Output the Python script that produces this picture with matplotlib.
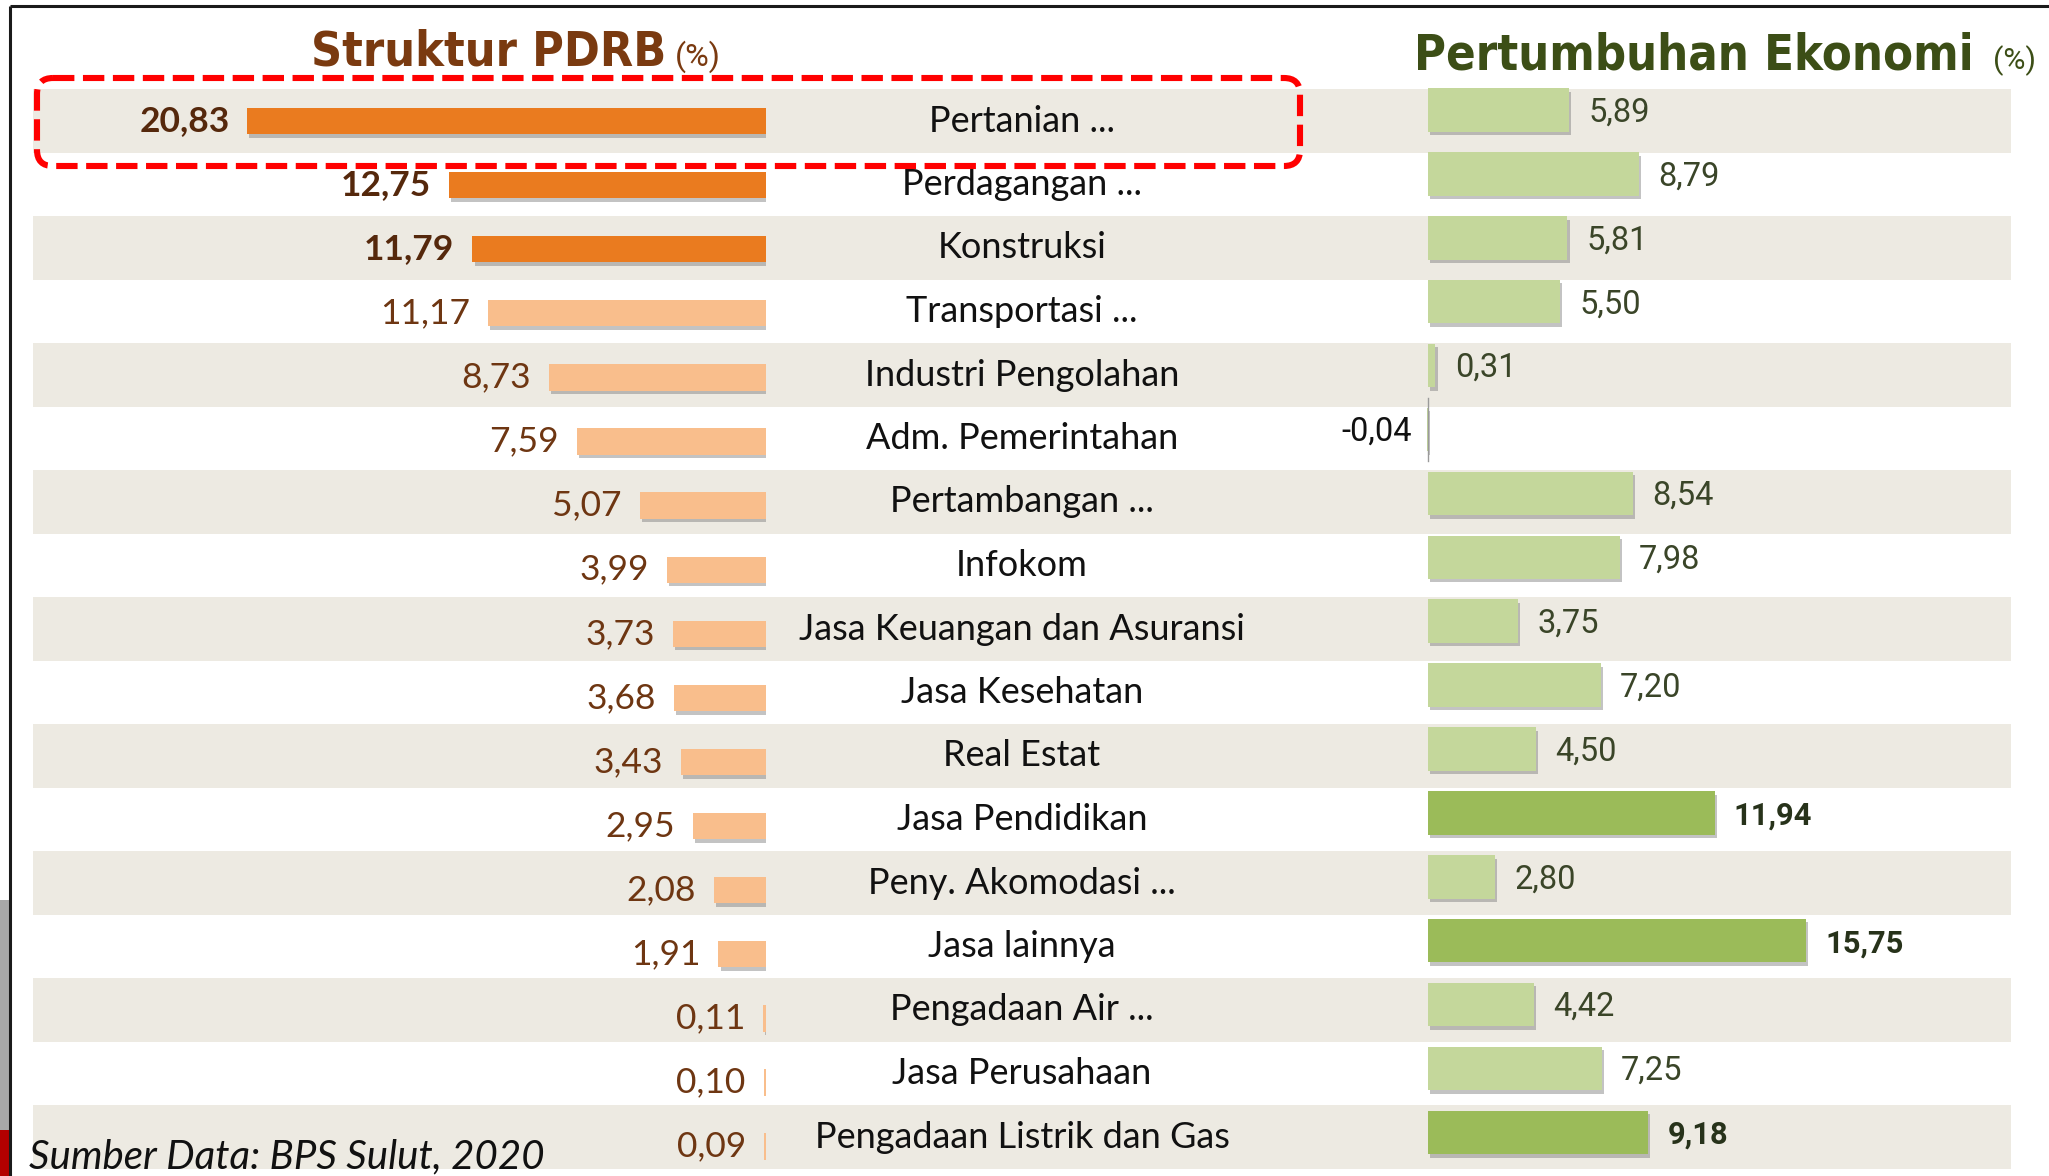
import matplotlib
matplotlib.use("Agg")
import matplotlib.pyplot as plt
from matplotlib import font_manager
from matplotlib.font_manager import FontProperties
from matplotlib.patches import FancyBboxPatch, Rectangle
from matplotlib.transforms import blended_transform_factory
import matplotlib.patheffects as pe

# ---------------- data ----------------
sectors = ["Pertanian ...", "Perdagangan ...", "Konstruksi", "Transportasi ...",
           "Industri Pengolahan", "Adm. Pemerintahan", "Pertambangan ...", "Infokom",
           "Jasa Keuangan dan Asuransi", "Jasa Kesehatan", "Real Estat", "Jasa Pendidikan",
           "Peny. Akomodasi ...", "Jasa lainnya", "Pengadaan Air ...", "Jasa Perusahaan",
           "Pengadaan Listrik dan Gas"]
struktur = [20.83, 12.75, 11.79, 11.17, 8.73, 7.59, 5.07, 3.99, 3.73, 3.68, 3.43,
            2.95, 2.08, 1.91, 0.11, 0.10, 0.09]
pertumbuhan = [5.89, 8.79, 5.81, 5.50, 0.31, -0.04, 8.54, 7.98, 3.75, 7.20, 4.50,
               11.94, 2.80, 15.75, 4.42, 7.25, 9.18]
struktur_top = [True, True, True] + [False] * 14
pertumbuhan_top = [False] * 11 + [True, False, True, False, False, True]

title_left = "Struktur PDRB"
title_right = "Pertumbuhan Ekonomi"
unit = "(%)"
source = "Sumber Data: BPS Sulut, 2020"

# ---------------- fonts ----------------
ttf = font_manager.fontManager.ttflist
avail = {f.name for f in ttf}
BODY = "Lato" if "Lato" in avail else "DejaVu Sans"
NUMFAM = "Roboto" if "Roboto" in avail else "DejaVu Sans"


def pick_condensed(bold):
    keys = ("Narrow", "Condensed", "Cond")
    good = []
    for f in ttf:
        nm = f.name + " " + f.fname.split("/")[-1]
        if any(k in nm for k in keys) or f.stretch in ("condensed", "semi-condensed"):
            if "Italic" in nm or f.style != "normal":
                continue
            w = f.weight if isinstance(f.weight, int) else (700 if "bold" in str(f.weight) else 400)
            good.append((abs(w - (700 if bold else 400)), f.fname))
    if good:
        good.sort()
        return FontProperties(fname=good[0][1])
    return FontProperties(family=NUMFAM, weight="bold" if bold else "normal")


FP_TITLE = pick_condensed(True)
FP_NUM = FontProperties(family=NUMFAM, weight="normal")
FP_NUM_B = FontProperties(family=NUMFAM, weight="bold")

# ---------------- layout ----------------
W, H = 2049, 1176
S = 2049 / 1568
fig = plt.figure(figsize=(W / 100, H / 100), dpi=100)
fig.patch.set_facecolor("white")
renderer = fig.canvas.get_renderer()
n = len(sectors)


def fit_width(t, target):
    w = t.get_window_extent(renderer).width
    t.set_fontsize(t.get_fontsize() * target / w)
    return t.get_fontsize()


def rows_rect(x0, x1, row0, drow):
    top = row0 - drow / 2
    bot = row0 + drow * (n - 0.5)
    return [x0 / W, 1 - bot / H, (x1 - x0) / W, (bot - top) / H]


# stripes axes
axS = fig.add_axes(rows_rect(33, 2011, 121.0, 63.5))
axS.set_xlim(0, 1)
axS.set_ylim(n - 0.5, -0.5)
axS.axis("off")
for i in range(n):
    if i % 2 == 0:
        axS.axhspan(i - 0.5, i + 0.5, color="#EDEAE2", lw=0)

# category labels
tr = blended_transform_factory(fig.transFigure, axS.transData)
for i, s in enumerate(sectors):
    axS.text(1022 / W, i, s, transform=tr, ha="center", va="center",
             fontsize=26, family=BODY, color="#111111")

shadow = [pe.SimplePatchShadow(offset=(1.5, -2.5), shadow_rgbFace="#7a7a7a", alpha=0.45),
          pe.Normal()]

# left axes (PDRB structure)
pxL = 24.9
axL = fig.add_axes(rows_rect(33, 766, 121.0, 64.1))
axL.patch.set_alpha(0)
axL.set_xlim((766 - 33) / pxL, 0)
axL.set_ylim(n - 0.5, -0.5)
axL.axis("off")
colsL = ["#EA7B1F" if t else "#F9BE8C" for t in struktur_top]
barsL = axL.barh(range(n), struktur, height=0.41, color=colsL, lw=0)
for bar in barsL:
    bar.set_path_effects(shadow)
for i, (v, t) in enumerate(zip(struktur, struktur_top)):
    axL.text(v + 0.72, i, f"{v:.2f}".replace(".", ","), ha="right", va="center",
             fontsize=25.5, family=BODY, fontweight="bold" if t else "normal",
             color="#55280C" if t else "#6E3612")

# right axes (growth)
pxR = 24.0
axR = fig.add_axes(rows_rect(1380, 2011, 110.0, 63.9))
axR.patch.set_alpha(0)
axR.set_xlim(-48 / pxR, (2011 - 1380 - 48) / pxR)
axR.set_ylim(n - 0.5, -0.5)
axR.axis("off")
colsR = ["#9BBB59" if t else "#C4D79B" for t in pertumbuhan_top]
barsR = axR.barh(range(n), pertumbuhan, height=0.68, color=colsR, lw=0)
for bar in barsR:
    bar.set_path_effects(shadow)

# font sizes of right-hand values, sized from reference label widths
_probe = fig.text(0, 0, "5,89", fontproperties=FP_NUM.copy())
_probe.set_fontsize(25)
size_reg = fit_width(_probe, 47 * S)
_probe.remove()
_probe = fig.text(0, 0, "11,94", fontproperties=FP_NUM_B.copy())
_probe.set_fontsize(25)
size_bold = fit_width(_probe, 60 * S)
_probe.remove()

for i, (v, t) in enumerate(zip(pertumbuhan, pertumbuhan_top)):
    lab = f"{v:.2f}".replace(".", ",")
    if v >= 0:
        tt = axR.text(v + 0.8, i + 0.04, lab, ha="left", va="center",
                      fontproperties=(FP_NUM_B if t else FP_NUM).copy(),
                      color="#27321A" if t else "#3A4528")
        tt.set_fontsize(size_bold if t else size_reg)
    else:
        tt = axR.text(v - 0.65, i + 0.04, lab, ha="right", va="center",
                      fontproperties=FP_NUM.copy(), color="#111111")
        tt.set_fontsize(size_reg)
axR.axvline(0, ymin=1 - (5.5 + 0.5) / n, ymax=1 - (4.5 + 0.5) / n, color="#9a9a9a", lw=1)

# overlay axes in pixel coordinates
axO = fig.add_axes([0, 0, 1, 1])
axO.patch.set_alpha(0)
axO.set_xlim(0, W)
axO.set_ylim(H, 0)
axO.axis("off")

# frame and slide remnant
axO.plot([10, W], [6, 6], color="#1a1a1a", lw=2.2, solid_capstyle="butt")
axO.plot([10, 10], [6, H], color="#1a1a1a", lw=2.2, solid_capstyle="butt")
axO.add_patch(Rectangle((0, 900), 8.5, 230, color="#A8A8A8", lw=0))
axO.add_patch(Rectangle((0, 1130), 8.5, 46, color="#B30000", lw=0))

# titles
tl = axO.text(311, 66, title_left, ha="left", va="baseline",
              fontproperties=FP_TITLE.copy(), color="#7A3A10")
tl.set_fontsize(40)
fit_width(tl, 355)
ul = axO.text(675, 66, unit, ha="left", va="baseline",
              fontproperties=FP_NUM.copy(), color="#7A3A10")
ul.set_fontsize(20)
fit_width(ul, 46)
trt = axO.text(1414, 69, title_right, ha="left", va="baseline",
               fontproperties=FP_TITLE.copy(), color="#3C4E16")
trt.set_fontsize(40)
fit_width(trt, 560)
ur = axO.text(1993, 69, unit, ha="left", va="baseline",
              fontproperties=FP_NUM.copy(), color="#3C4E16")
ur.set_fontsize(20)
fit_width(ur, 43)

# source
axO.text(29, 1168, source, ha="left", va="baseline", fontsize=29, family=BODY,
         style="italic", color="#111111")

# red dashed highlight box
box = FancyBboxPatch((37, 78), 1263, 88, boxstyle="round,pad=0,rounding_size=16",
                     fill=False, edgecolor="#FF0000", lw=4.4, linestyle=(0, (3.5, 1.4)))
axO.add_patch(box)

fig.savefig("out.png", dpi=100, facecolor="white")
